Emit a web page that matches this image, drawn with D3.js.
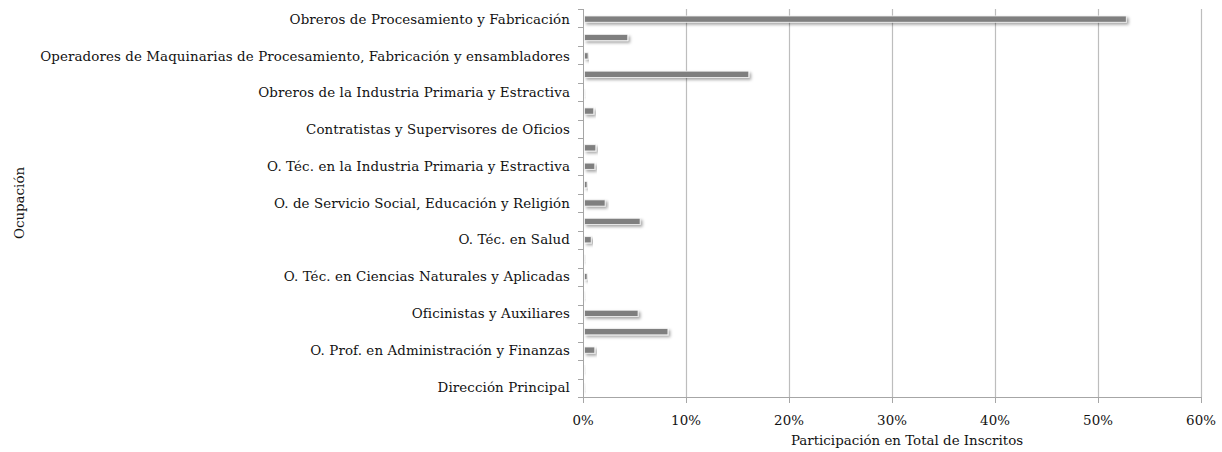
<!DOCTYPE html>
<html><head><meta charset="utf-8">
<script src="https://cdn.jsdelivr.net/npm/d3@7"></script>
<style>
html,body{margin:0;padding:0;background:#fff;}
svg{display:block;}
text{font-family:"DejaVu Serif","Liberation Serif",serif;fill:#111;}
</style></head>
<body><svg id="c" width="1222" height="452"></svg>
<script>
// Categories top to bottom; only every other one is labelled in the reference
const categories = [
  "Obreros de Procesamiento y Fabricación",
  "Supervisores y Operadores Calificados de Procesamiento",
  "Operadores de Maquinarias de Procesamiento, Fabricación y ensambladores",
  "Obreros de Oficios y de la Construcción",
  "Obreros de la Industria Primaria y Estractiva",
  "O. Intermedias en Transporte y Mantenimiento",
  "Contratistas y Supervisores de Oficios",
  "O. Elementales en Ventas y Servicios",
  "O. Téc. en la Industria Primaria y Estractiva",
  "O. Téc. en Arte, Cultura y Deporte",
  "O. de Servicio Social, Educación y Religión",
  "O. Auxiliares en Salud",
  "O. Téc. en Salud",
  "O. Prof. en Salud",
  "O. Téc. en Ciencias Naturales y Aplicadas",
  "O. Prof. en Ciencias Naturales y Aplicadas",
  "Oficinistas y Auxiliares",
  "O. Téc. en Administración",
  "O. Prof. en Administración y Finanzas",
  "Gerencia Media",
  "Dirección Principal"
];
const shownLabels = [
  "Obreros de Procesamiento y Fabricación",
  "Operadores de Maquinarias de Procesamiento, Fabricación y ensambladores",
  "Obreros de la Industria Primaria y Estractiva",
  "Contratistas y Supervisores de Oficios",
  "O. Téc. en la Industria Primaria y Estractiva",
  "O. de Servicio Social, Educación y Religión",
  "O. Téc. en Salud",
  "O. Téc. en Ciencias Naturales y Aplicadas",
  "Oficinistas y Auxiliares",
  "O. Prof. en Administración y Finanzas",
  "Dirección Principal"
];
// Participation share (%)
const values = [52.6, 4.2, 0.35, 15.95, 0.05, 0.9, 0, 1.1, 1.0, 0.25,
                2.0, 5.4, 0.65, 0.1, 0.25, 0.05, 5.2, 8.1, 1.0, 0.05, 0.05];
const xTicks = [0, 10, 20, 30, 40, 50, 60];
const xTitle = "Participación  en Total de Inscritos";
const yTitle = "Ocupación";

const svg = d3.select("#c");
const m = {left:583, right:1201, top:9, bottom:397};
const FS = 13.4;

const defs = svg.append("defs");
const f = defs.append("filter").attr("id","sh").attr("x","-5%").attr("y","-50%").attr("width","120%").attr("height","250%");
f.append("feDropShadow").attr("dx",2).attr("dy",2).attr("stdDeviation",1.4)
  .attr("flood-color","#000").attr("flood-opacity",0.35);

const x = d3.scaleLinear().domain([0,60]).range([m.left, m.right]);
const y = d3.scaleBand().domain(categories).range([m.top, m.bottom]).paddingInner(0.66).paddingOuter(0.38);

// gridlines
svg.append("g").selectAll("line").data(xTicks.slice(1)).join("line")
  .attr("x1",d=>x(d)+0.5).attr("x2",d=>x(d)+0.5)
  .attr("y1",m.top).attr("y2",m.bottom)
  .attr("stroke","#bdbdbd").attr("stroke-width",1.2);

// bars
svg.append("g").selectAll("rect").data(categories).join("rect")
  .attr("x",x(0)+1.5).attr("y",(d)=>y(d))
  .attr("width",(d,i)=>Math.max(0, x(values[i])-x(0)))
  .attr("height",y.bandwidth())
  .attr("fill",(d,i)=>values[i]>0.2?"#7f7f7f":"#e6e6e6")
  .attr("stroke","#f6f6f6").attr("stroke-width",0.8)
  .attr("filter","url(#sh)")
  .style("display",(d,i)=>values[i]>0?null:"none");

// y axis: line + ticks at category boundaries
const yAxisG = svg.append("g");
yAxisG.append("line").attr("x1",m.left+0.5).attr("x2",m.left+0.5).attr("y1",m.top).attr("y2",m.bottom+6)
  .attr("stroke","#a6a6a6").attr("stroke-width",1);
const bounds = d3.range(categories.length+1).map(i=>m.top + i*(m.bottom-m.top)/categories.length);
yAxisG.selectAll("line.t").data(bounds).join("line").attr("class","t")
  .attr("x1",m.left-5).attr("x2",m.left).attr("y1",d=>Math.round(d)+0.5).attr("y2",d=>Math.round(d)+0.5)
  .attr("stroke","#a6a6a6");
yAxisG.selectAll("text").data(categories.filter(c=>shownLabels.includes(c))).join("text")
  .attr("x",m.left-13).attr("y",d=>y(d)+y.bandwidth()/2)
  .attr("dy","0.35em").attr("text-anchor","end").attr("font-size",FS)
  .attr("letter-spacing",0.1)
  .text(d=>d);

// x axis
const xAxisG = svg.append("g");
xAxisG.append("line").attr("x1",m.left).attr("x2",m.right).attr("y1",m.bottom+0.5).attr("y2",m.bottom+0.5)
  .attr("stroke","#a6a6a6");
xAxisG.selectAll("line.t").data(xTicks).join("line").attr("class","t")
  .attr("x1",d=>x(d)+0.5).attr("x2",d=>x(d)+0.5).attr("y1",m.bottom).attr("y2",m.bottom+6)
  .attr("stroke","#a6a6a6");
xAxisG.selectAll("text").data(xTicks).join("text")
  .attr("x",d=>x(d)).attr("y",m.bottom+28).attr("text-anchor","middle").attr("font-size",FS)
  .text(d=>d+"%");

svg.append("text").attr("x",907).attr("y",m.bottom+48).attr("text-anchor","middle")
  .attr("font-size",FS).text(xTitle);
svg.append("text").attr("transform",`translate(24,${(m.top+m.bottom)/2}) rotate(-90)`)
  .attr("text-anchor","middle").attr("font-size",FS).text(yTitle);
</script></body></html>
